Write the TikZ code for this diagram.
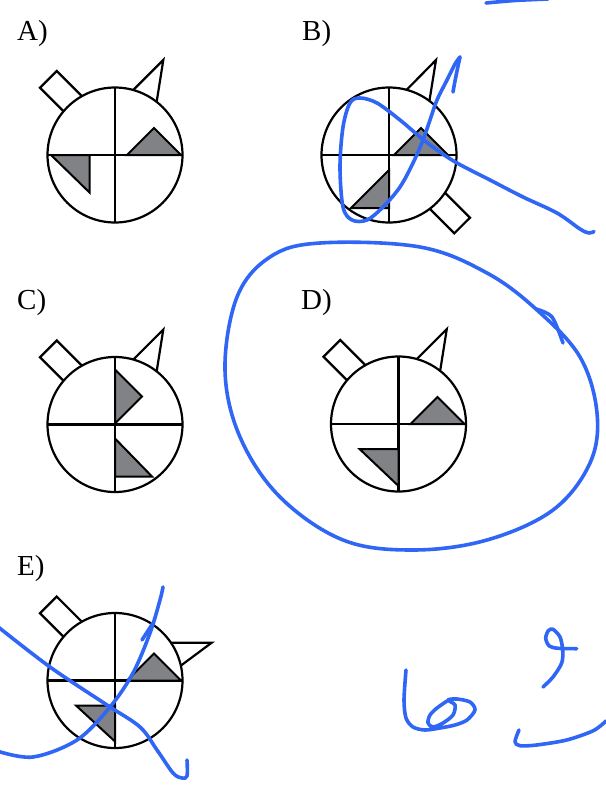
\documentclass[tikz,border=0pt]{standalone}
\usepackage{fontspec}
\setmainfont{Liberation Serif}
\definecolor{shade}{RGB}{128,130,133}
\definecolor{ink}{RGB}{48,102,245}
\tikzset{
  outline/.style={draw=black, line width=2.2pt, fill=white},
  shadetri/.style={draw=black, line width=2pt, fill=shade},
  crossline/.style={draw=black, line width=2.2pt},
  scribble/.style={draw=ink, line width=3.6pt, line cap=round, line join=round},
  lbl/.style={anchor=base west, inner sep=0pt, font=\fontsize{29}{34}\selectfont}
}
\begin{document}
\begin{tikzpicture}[x=1pt,y=-1pt]
\useasboundingbox[fill=white] (0,0) rectangle (605,787);

% ---------- A ----------
\node[lbl] (labA) at (17,40) {A)};
\begin{scope}[shift={(115,155)}]
  \draw[outline] (-75,-67.3) -- (-58.3,-84) -- (-28.3,-54) -- (-45,-37.3) -- cycle;
  \draw[outline] (15.3,-62) -- (48.3,-95) -- (41,-49) -- cycle;
  \draw[outline] (0,0) circle[radius=67.5pt];
  \draw[crossline] (0,-67.5) -- (0,67.5) (-67.5,0) -- (67.5,0);
  \draw[shadetri] (12,0) -- (39,-27) -- (66,0) -- cycle;
  \draw[shadetri] (-64,0) -- (-25.5,0) -- (-25.5,37.5) -- cycle;
\end{scope}

% ---------- B ----------
\node[lbl] (labB) at (302,40) {B)};
\begin{scope}[shift={(389,155)}]
  \draw[outline] (81,62.7) -- (65.3,78.3) -- (35.3,48.3) -- (51,32.7) -- cycle;
  \draw[outline] (14.5,-62) -- (47,-95) -- (39.6,-49) -- cycle;
  \draw[outline] (0,0) circle[radius=67.5pt];
  \draw[crossline] (0,-67.5) -- (0,67.5) (-67.5,0) -- (67.5,0);
  \draw[shadetri] (5,0) -- (32,-27) -- (59,0) -- cycle;
  \draw[shadetri] (-38,53) -- (0,15) -- (0,53) -- cycle;
\end{scope}

% ---------- C ----------
\node[lbl] (labC) at (17,309) {C)};
\begin{scope}[shift={(115,424.5)}]
  \draw[outline] (-75,-67.3) -- (-58.3,-84) -- (-28.3,-54) -- (-45,-37.3) -- cycle;
  \draw[outline] (15.3,-62) -- (48.3,-95) -- (41,-49) -- cycle;
  \draw[outline] (0,0) circle[radius=67.5pt];
  \draw[crossline] (0,-67.5) -- (0,67.5) (-67.5,0) -- (67.5,0);
  \draw[shadetri] (0,-55) -- (27,-28) -- (0,-1) -- cycle;
  \draw[shadetri] (0,14) -- (37,52) -- (0,52) -- cycle;
\end{scope}

% ---------- D ----------
\node[lbl] (labD) at (301,309) {D)};
\begin{scope}[shift={(398.5,424)}]
  \draw[outline] (-75,-67.3) -- (-58.3,-84) -- (-28.3,-54) -- (-45,-37.3) -- cycle;
  \draw[outline] (15.3,-62) -- (48.3,-95) -- (41,-49) -- cycle;
  \draw[outline] (0,0) circle[radius=67.5pt];
  \draw[crossline] (0,-67.5) -- (0,67.5) (-67.5,0) -- (67.5,0);
  \draw[shadetri] (12,0) -- (39,-27) -- (66,0) -- cycle;
  \draw[shadetri] (-39,25) -- (0,25) -- (0,62) -- cycle;
\end{scope}

% ---------- E ----------
\node[lbl] (labE) at (17,575) {E)};
\begin{scope}[shift={(115,680.5)}]
  \draw[outline] (-75,-67.3) -- (-58.3,-84) -- (-28.3,-54) -- (-45,-37.3) -- cycle;
  \draw[outline] (54.5,-37.8) -- (96.7,-37.8) -- (63.7,-13.3) -- cycle;
  \draw[outline] (0,0) circle[radius=67.5pt];
  \draw[crossline] (0,-67.5) -- (0,67.5) (-67.5,0) -- (67.5,0);
  \draw[shadetri] (12,0) -- (39,-27) -- (66,0) -- cycle;
  \draw[shadetri] (-39,25) -- (0,25) -- (0,61) -- cycle;
\end{scope}

% ---------- blue handwriting ----------
% top edge arc
\draw[scribble] plot[smooth] coordinates {(486,3) (515,0.5) (548,-1)};
% B scribble
\draw[scribble] (453,92) .. controls (455,80) and (458,66) .. (460,57);
\draw[scribble] plot[smooth, tension=0.55] coordinates {
  (460,57) (455,64) (447,80) (437,100) (430,120) (423,140) (413,163) (400,187)
  (383,207) (367,220) (352,220) (343,207) (340,167) (343,127) (350,103) (360,98)
  (377,103) (400,120) (420,137) (437,150) (457,163) (490,180) (523,197)
  (557,213) (580,229) (589,233) (594,231.5)};
% loop round D
\draw[scribble] plot[smooth cycle, tension=0.6] coordinates {
  (320,243) (420,247) (487,273) (537,310) (580,357) (597,413) (590,463)
  (553,510) (487,540) (413,550) (343,540) (280,497) (240,437) (225,370)
  (237,297) (270,257)};
\draw[scribble] plot[smooth] coordinates {(536,309) (552,317) (563,343)};
% E scribbles
\draw[scribble] plot[smooth, tension=0.55] coordinates {
  (-3,626) (50,667) (107,705) (140,727) (157,750) (173,773) (182,778) (187,776) (187,760)};
\draw[scribble] plot[smooth, tension=0.55] coordinates {
  (-3,751) (33,757) (77,740) (110,707) (133,673) (150,633) (160,600) (163,587)};
\draw[scribble] (142,640) -- (153,623);
% handwriting lower right
\draw[scribble] plot[smooth, tension=0.5] coordinates {
  (406,670) (404,700) (406,718) (413,727) (425,730) (440,728) (455,725) (467,720)
  (475,710) (470,702) (457,699) (448,700) (455,705) (453,715) (443,723) (433,727)
  (428,723) (430,715) (437,708) (447,701)};
\draw[scribble] plot[smooth, tension=0.5] coordinates {
  (543,687) (553,677) (561.7,663) (562.7,650) (560,637) (553,629.3) (548.3,630.7)
  (545.7,638.3) (549.3,646) (558.3,648.3) (576.7,648.7)};
\draw[scribble] plot[smooth, tension=0.5] coordinates {
  (519,730) (515,741.7) (520,745.7) (536.7,745) (566.7,740) (593.3,730.7) (606,721)};
\end{tikzpicture}
\end{document}
